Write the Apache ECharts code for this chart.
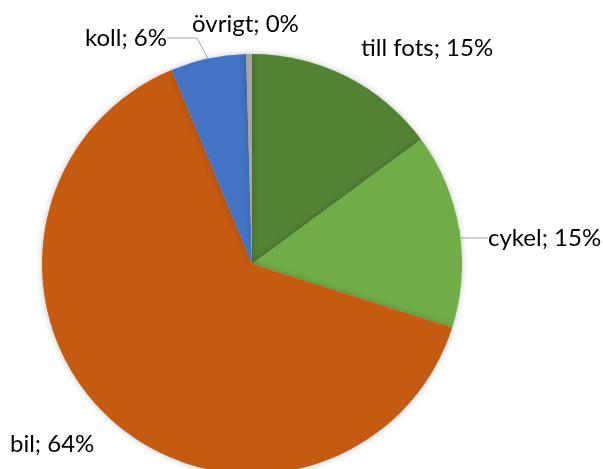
<!DOCTYPE html>
<html>
<head>
    <meta charset="utf-8"/>
    <script type="text/javascript" src="https://cdn.jsdelivr.net/npm/echarts@6/dist/echarts.min.js"></script>
    <style>
        html, body { margin: 0; padding: 0; background: #fff; }
        #chart { width: 603px; height: 469px; }
    </style>
</head>
<body>
<div id="chart"></div>
<script type="text/javascript">
    // data
    let categories = ['till fots', 'cykel', 'bil', 'koll', 'övrigt'];
    let shares = [14.9, 15.0, 63.85, 5.8, 0.45];
    let colors = ['#548235', '#70ad47', '#c55a11', '#4472c4', '#a5a5a5'];

    // where each label sits (left x, middle y) and whether it has a leader line
    let labelSpots = [[361, 48], [488, 238], [10, 444], [85, 38], [192, 24]];
    let showLine = [false, true, false, true, false];

    let chart = echarts.init(document.getElementById('chart'));
    chart.setOption({
        animation: false,
        series: [{
            type: 'pie',
            center: [252, 264],
            radius: 210,
            startAngle: 90,
            percentPrecision: 0,
            data: categories.map(function (c, i) {
                return {
                    name: c,
                    value: shares[i],
                    itemStyle: {color: colors[i]},
                    labelLine: {show: showLine[i]}
                };
            }),
            itemStyle: {
                borderWidth: 0,
                shadowBlur: 6,
                shadowColor: 'rgba(0,0,0,0.25)'
            },
            label: {
                formatter: '{b}; {d}%',
                fontFamily: 'Lato',
                fontSize: 24,
                color: '#000',
                overflow: 'none'
            },
            labelLine: {
                lineStyle: {color: '#a6a6a6', width: 1}
            },
            labelLayout: function (p) {
                let s = labelSpots[p.dataIndex];
                return {x: s[0], y: s[1], align: 'left', verticalAlign: 'middle'};
            }
        }]
    });
</script>
</body>
</html>
